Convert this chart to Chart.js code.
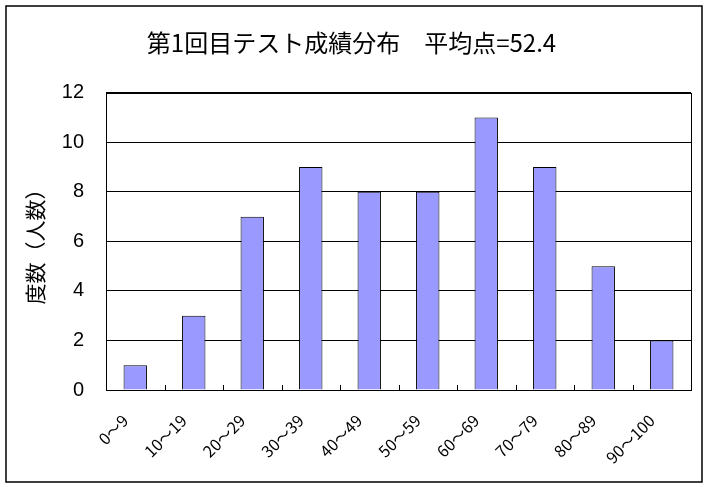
<!DOCTYPE html>
<html>
<head>
<meta charset="utf-8">
<script src="https://cdn.jsdelivr.net/npm/chart.js@4"></script>
<style>
html, body { margin: 0; padding: 0; background: #fff; }
</style>
</head>
<body>
<canvas id="chart" width="709" height="487"></canvas>
<script>
let categories = ['0～9', '10～19', '20～29', '30～39', '40～49', '50～59', '60～69', '70～79', '80～89', '90～100'];
let counts = [1, 3, 7, 9, 8, 8, 11, 9, 5, 2];
let yTicks = [0, 2, 4, 6, 8, 10, 12];
let chartTitle = '第1回目テスト成績分布　平均点=52.4';
let yTitle = '度数（人数）';

/* plot frame, inward x ticks and the outer chart border */
let framePlugin = {
    id: 'frame',
    afterDraw: function(chart) {
        let ctx = chart.ctx;
        let a = chart.chartArea;
        let xs = chart.scales.x;
        ctx.save();
        ctx.strokeStyle = '#000';
        ctx.lineWidth = 1;
        ctx.strokeRect(Math.round(a.left) + 0.5, Math.round(a.top) + 0.5,
                       Math.round(a.right - a.left), Math.round(a.bottom - a.top));
        ctx.beginPath();
        for (let i = 0; i < categories.length - 1; i++) {
            let px = Math.round((xs.getPixelForValue(i) + xs.getPixelForValue(i + 1)) / 2) + 0.5;
            ctx.moveTo(px, a.bottom);
            ctx.lineTo(px, a.bottom - 5);
        }
        ctx.stroke();
        ctx.lineWidth = 1.5;
        ctx.strokeRect(6, 6, 696, 476);
        ctx.restore();
    }
};

new Chart(document.getElementById('chart'), {
    type: 'bar',
    data: {
        labels: categories,
        datasets: [{
            data: counts,
            backgroundColor: '#9999FF',
            borderColor: '#000',
            borderWidth: 1,
            barPercentage: 0.4,
            categoryPercentage: 1.0
        }]
    },
    options: {
        responsive: false,
        animation: false,
        layout: { padding: { left: 12, right: 18, top: 6, bottom: 6 } },
        plugins: {
            legend: { display: false },
            tooltip: { enabled: false },
            title: {
                display: true,
                text: chartTitle,
                color: '#000',
                font: { family: '"Noto Sans CJK JP"', size: 24, weight: 'normal' },
                padding: { top: 22, bottom: 36 }
            }
        },
        scales: {
            x: {
                grid: { display: false },
                border: { display: true, color: '#000' },
                ticks: {
                    color: '#000',
                    maxRotation: 45,
                    minRotation: 45,
                    padding: 13,
                    labelOffset: -10,
                    font: { family: '"Noto Sans CJK JP"', size: 16 }
                },
                afterFit: function(s) { s.height = 91; }
            },
            y: {
                min: 0,
                max: 12,
                afterBuildTicks: function(s) {
                    s.ticks = yTicks.map(function(v) { return { value: v }; });
                },
                grid: { color: '#000', lineWidth: 1, drawTicks: false },
                border: { display: true, color: '#000' },
                ticks: {
                    color: '#000',
                    padding: 22,
                    font: { family: '"Liberation Sans"', size: 20 }
                },
                title: {
                    display: true,
                    text: yTitle,
                    color: '#000',
                    padding: { top: 10, bottom: 0 },
                    font: { family: '"Noto Sans CJK JP"', size: 21 }
                },
                afterFit: function(s) { s.width = 94; }
            }
        }
    },
    plugins: [framePlugin]
});
</script>
</body>
</html>
